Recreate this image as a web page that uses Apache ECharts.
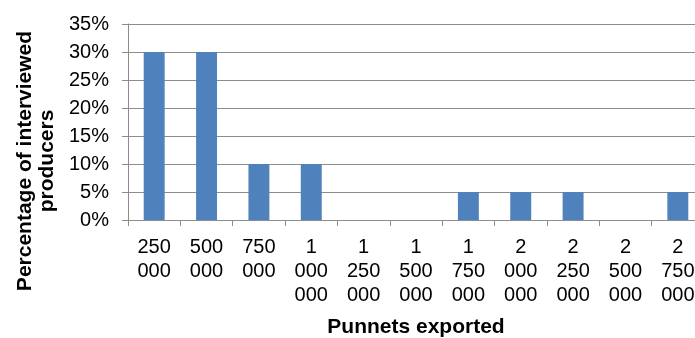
<!DOCTYPE html>
<html>
<head>
<meta charset="utf-8">
<script src="https://cdn.jsdelivr.net/npm/echarts@6/dist/echarts.min.js"></script>
<style>
  html, body { margin: 0; padding: 0; background: #fff; }
  #chart { width: 695px; height: 338px; }
</style>
</head>
<body>
<div id="chart"></div>
<script>
// Export volume bands (punnets) and share of producers in each band
const categories = [
  '250\n000', '500\n000', '750\n000', '1\n000\n000', '1\n250\n000', '1\n500\n000',
  '1\n750\n000', '2\n000\n000', '2\n250\n000', '2\n500\n000', '2\n750\n000'
];
const shares = [30, 30, 10, 10, 0, 0, 5, 5, 5, 0, 5];
const yTicks = { min: 0, max: 35, step: 5 };

const gridGrey = '#8c8c8c';
const font = 'Liberation Sans, Arial, sans-serif';

const chart = echarts.init(document.getElementById('chart'), null, { renderer: 'canvas' });
chart.setOption({
  animation: false,
  backgroundColor: '#fff',
  grid: {
    left: 128, top: 24, width: 576, height: 196,
    containLabel: false, outerBoundsMode: 'none'
  },
  xAxis: {
    type: 'category',
    data: categories,
    name: 'Punnets exported',
    nameLocation: 'middle',
    nameGap: 97,
    nameTextStyle: { fontFamily: font, fontSize: 21, fontWeight: 'bold', color: '#000' },
    axisLine: { lineStyle: { color: gridGrey, width: 1 } },
    axisTick: { show: true, length: 6, alignWithLabel: false, lineStyle: { color: gridGrey } },
    axisLabel: {
      interval: 0, margin: 15, color: '#000', fontFamily: font, fontSize: 20,
      lineHeight: 24, align: 'center', hideOverlap: false
    },
    splitLine: { show: false }
  },
  yAxis: {
    type: 'value',
    min: yTicks.min, max: yTicks.max, interval: yTicks.step,
    axisLine: { show: true, lineStyle: { color: gridGrey, width: 1 } },
    axisTick: { show: true, length: 6, lineStyle: { color: gridGrey } },
    axisLabel: {
      margin: 19, color: '#000', fontFamily: font, fontSize: 20,
      formatter: v => v + '%'
    },
    splitLine: { show: true, lineStyle: { color: gridGrey, width: 1 } }
  },
  series: [{
    type: 'bar',
    data: shares,
    barWidth: '40%',
    itemStyle: { color: '#4f81bd' }
  }],
  graphic: [{
    type: 'text',
    x: 36, y: 161,
    rotation: Math.PI / 2,
    style: {
      text: 'Percentage of interviewed\nproducers',
      font: 'bold 21px ' + font,
      fill: '#000',
      align: 'center',
      verticalAlign: 'middle',
      lineHeight: 22
    }
  }]
});
</script>
</body>
</html>
